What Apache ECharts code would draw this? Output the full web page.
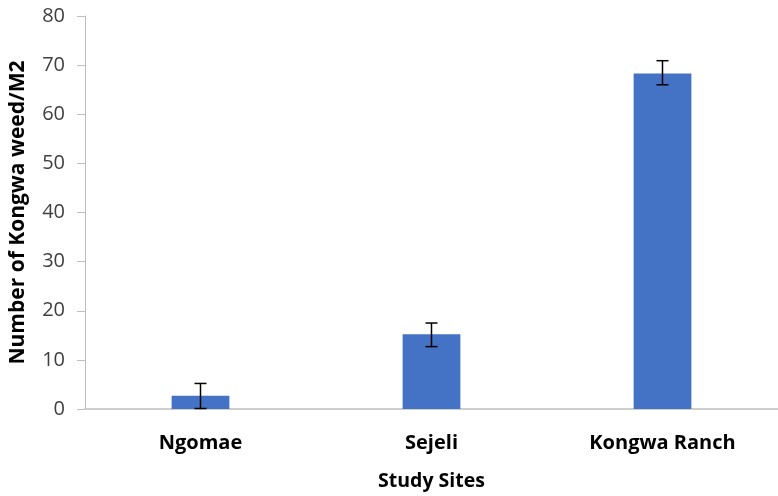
<!DOCTYPE html>
<html><head><meta charset="utf-8">
<script src="https://cdn.jsdelivr.net/npm/echarts@6/dist/echarts.min.js"></script>
<style>html,body{margin:0;padding:0;background:#fff}#c{width:778px;height:496px}</style>
</head><body><div id="c"></div>
<script>
var categories = ["Ngomae", "Sejeli", "Kongwa Ranch"];
var values = [2.7, 15.2, 68.3];
var errLow = [0.1, 12.7, 66.0];
var errHigh = [5.2, 17.5, 70.9];
var yTicks = [0, 10, 20, 30, 40, 50, 60, 70, 80];

var chart = echarts.init(document.getElementById('c'));
var font = '"Open Sans", "Liberation Sans", sans-serif';
chart.setOption({
  animation: false,
  grid: { left: 85, right: -4, top: 16, bottom: 86, containLabel: false },
  xAxis: {
    type: 'category', data: categories,
    axisLine: { lineStyle: { color: '#bfbfbf', width: 1.5 } },
    axisTick: { show: false },
    axisLabel: { color: '#000', fontFamily: font, fontWeight: 'bold', fontSize: 20, margin: 24 },
    name: 'Study Sites', nameLocation: 'middle', nameGap: 62,
    nameTextStyle: { color: '#000', fontFamily: font, fontWeight: 'bold', fontSize: 19.5 }
  },
  yAxis: {
    type: 'value', min: yTicks[0], max: yTicks[yTicks.length - 1], interval: 10,
    axisLine: { show: true, lineStyle: { color: '#bfbfbf', width: 1 } },
    axisTick: { show: true, length: 8, lineStyle: { color: '#bfbfbf' } },
    splitLine: { show: false },
    axisLabel: { color: '#404040', fontFamily: font, fontSize: 20, margin: 20 },
    name: 'Number of Kongwa weed/M2', nameLocation: 'middle', nameGap: 56,
    nameTextStyle: { color: '#000', fontFamily: font, fontWeight: 'bold', fontSize: 21 }
  },
  series: [
    { type: 'bar', data: values, barWidth: '25%', itemStyle: { color: '#4472C4' } },
    {
      type: 'custom', z: 10,
      data: categories.map(function (c, i) { return [i, errLow[i], errHigh[i]]; }),
      renderItem: function (params, api) {
        var lo = api.coord([api.value(0), api.value(1)]);
        var hi = api.coord([api.value(0), api.value(2)]);
        var w = 6;
        var st = { stroke: '#000', lineWidth: 1.5 };
        return { type: 'group', children: [
          { type: 'line', shape: { x1: hi[0], y1: hi[1], x2: lo[0], y2: lo[1] }, style: st },
          { type: 'line', shape: { x1: hi[0] - w, y1: hi[1], x2: hi[0] + w, y2: hi[1] }, style: st },
          { type: 'line', shape: { x1: lo[0] - w, y1: lo[1], x2: lo[0] + w, y2: lo[1] }, style: st }
        ] };
      }
    }
  ]
});
</script></body></html>
